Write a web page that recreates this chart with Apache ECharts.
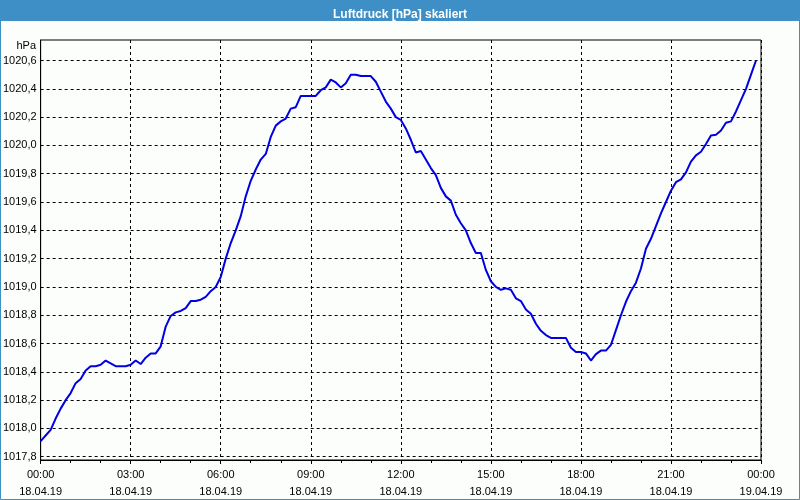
<!DOCTYPE html>
<html><head><meta charset="utf-8">
<script src="https://cdn.jsdelivr.net/npm/echarts@6/dist/echarts.min.js"></script>
<style>html,body{margin:0;padding:0;background:#fbfefb}#c{width:800px;height:500px}</style>
</head><body><div id="c"></div>
<script>
const chartTitle = 'Luftdruck [hPa] skaliert';
const unitLabel = 'hPa';
const stepMinutes = 10; // one reading every 10 minutes, starting 18.04.19 00:00
const pressure = [
  1017.91,1017.95,1017.99,1018.07,1018.14,1018.20,1018.25,1018.32,1018.35,1018.41,
  1018.44,1018.44,1018.45,1018.48,1018.46,1018.44,1018.44,1018.44,1018.45,1018.48,
  1018.455,1018.50,1018.53,1018.53,1018.58,1018.72,1018.795,1018.82,1018.83,1018.85,
  1018.90,1018.90,1018.91,1018.93,1018.97,1019.00,1019.07,1019.20,1019.31,1019.40,
  1019.50,1019.64,1019.75,1019.83,1019.90,1019.94,1020.06,1020.14,1020.17,1020.19,
  1020.26,1020.27,1020.35,1020.35,1020.35,1020.35,1020.39,1020.41,1020.465,1020.445,
  1020.41,1020.44,1020.50,1020.50,1020.49,1020.49,1020.49,1020.45,1020.38,1020.31,
  1020.26,1020.20,1020.18,1020.12,1020.04,1019.95,1019.96,1019.90,1019.84,1019.79,
  1019.70,1019.64,1019.61,1019.51,1019.45,1019.40,1019.31,1019.24,1019.24,1019.12,
  1019.04,1019.00,1018.98,1018.99,1018.98,1018.92,1018.90,1018.84,1018.81,1018.74,
  1018.69,1018.66,1018.64,1018.64,1018.64,1018.64,1018.57,1018.54,1018.54,1018.53,
  1018.48,1018.525,1018.55,1018.55,1018.59,1018.695,1018.80,1018.895,1018.97,1019.03,
  1019.13,1019.27,1019.34,1019.43,1019.52,1019.60,1019.68,1019.74,1019.76,1019.81,
  1019.885,1019.93,1019.955,1020.01,1020.07,1020.075,1020.105,1020.16,1020.17,1020.24,
  1020.32,1020.40,1020.50,1020.60
];
const xTickMinutes = [0,180,360,540,720,900,1080,1260,1440];
const xTickTimes = ['00:00','03:00','06:00','09:00','12:00','15:00','18:00','21:00','00:00'];
const xTickDates = ['18.04.19','18.04.19','18.04.19','18.04.19','18.04.19','18.04.19','18.04.19','18.04.19','19.04.19'];
const yTickValues = [1017.8,1018.0,1018.2,1018.4,1018.6,1018.8,1019.0,1019.2,1019.4,1019.6,1019.8,1020.0,1020.2,1020.4,1020.6];
const yTickLabels = ['1017,8','1018,0','1018,2','1018,4','1018,6','1018,8','1019,0','1019,2','1019,4','1019,6','1019,8','1020,0','1020,2','1020,4','1020,6'];

const FONT = 'Liberation Sans';
const BLUE = '#3d8fc6';
const chart = echarts.init(document.getElementById('c'), null, {renderer:'canvas'});
const seriesData = pressure.map((v, i) => [i * stepMinutes, v]);
const gridDash = {color:'#000', width:1, type:[3,3]};

chart.setOption({
  animation: false,
  backgroundColor: '#fbfefb',
  title: {
    text: chartTitle, left: 'center', top: 4,
    textStyle: {color:'#fff', fontWeight:'bold', fontSize:12, fontFamily:FONT}
  },
  graphic: [
    {type:'rect', z:-10, shape:{x:0, y:0, width:800, height:21}, style:{fill:BLUE}},
    {type:'rect', z:-10, shape:{x:0.5, y:0.5, width:799, height:499}, style:{fill:null, stroke:BLUE, lineWidth:1}},
    {type:'text', x:36, y:46, style:{text:unitLabel, textAlign:'right', textVerticalAlign:'middle', fill:'#000', font:'11px "' + FONT + '"'}}
  ],
  grid: {left:40, top:40, width:721, height:420, show:true, borderColor:'#000', borderWidth:1, backgroundColor:'transparent'},
  xAxis: {
    type:'value', min:0, max:1440, interval:180,
    axisLine:{show:true, lineStyle:{color:'#000', width:1}},
    axisTick:{show:true, length:4, lineStyle:{color:'#000'}},
    minorTick:{show:true, splitNumber:3, length:3, lineStyle:{color:'#000'}},
    splitLine:{show:true, lineStyle:gridDash},
    axisLabel:{
      color:'#000', fontSize:11, fontFamily:FONT, lineHeight:17, margin:6,
      formatter:(v) => { const i = xTickMinutes.indexOf(v); return i < 0 ? '' : xTickTimes[i] + '\n' + xTickDates[i]; }
    }
  },
  yAxis: {
    type:'value', min:1017.777, max:1020.745,
    axisLine:{show:true, lineStyle:{color:'#000', width:1}},
    axisTick:{show:false, customValues:yTickValues},
    splitLine:{show:true, lineStyle:gridDash},
    axisLabel:{
      customValues:yTickValues,
      color:'#000', fontSize:11, fontFamily:FONT, margin:4,
      formatter:(v) => { const i = yTickValues.findIndex(t => Math.abs(t - v) < 1e-6); return i < 0 ? '' : yTickLabels[i]; }
    }
  },
  series: [{
    type:'line', data:seriesData, showSymbol:false, symbol:'none',
    lineStyle:{color:'#0000e0', width:2}, z:5
  }]
});
</script></body></html>
